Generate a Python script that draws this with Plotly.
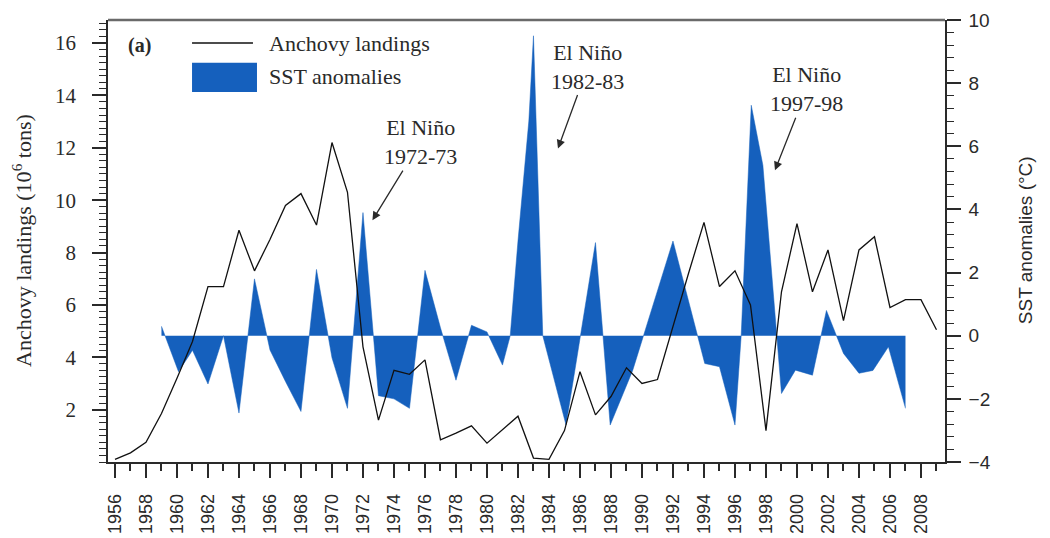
import plotly.graph_objects as go

# ---------------- data ----------------
years = list(range(1956, 2010))
landings = [0.1, 0.35, 0.75, 1.85, 3.2, 4.6, 6.7, 6.7, 8.85, 7.3,
            8.5, 9.8, 10.25, 9.05, 12.2, 10.3, 4.4, 1.6, 3.5, 3.35,
            3.9, 0.85, 1.1, 1.38, 0.72, 1.22, 1.75, 0.15, 0.1, 1.2,
            3.45, 1.8, 2.5, 3.6, 3.0, 3.15, 5.2, 7.2, 9.15, 6.7,
            7.3, 6.0, 1.2, 6.5, 9.1, 6.5, 8.1, 5.4, 8.1, 8.6,
            5.9, 6.2, 6.2, 5.05]

sst_x = [1959.0, 1960.1, 1961.0, 1962.0, 1963.0, 1964.0, 1965.0, 1966.0,
         1967.0, 1968.0, 1969.0, 1970.0, 1971.0, 1972.0, 1973.0, 1974.0,
         1975.0, 1976.0, 1977.0, 1978.0, 1979.0, 1980.0, 1981.0, 1981.5,
         1982.0, 1982.7, 1983.0, 1983.6, 1985.1, 1987.0, 1987.95, 1989.4,
         1992.0, 1994.05, 1995.0, 1996.0, 1996.4, 1997.05, 1997.8, 1999.0,
         1999.9, 2001.0, 2001.9, 2003.0, 2004.0, 2004.9, 2005.9, 2007.0]
sst_v = [0.3, -1.14, -0.46, -1.53, 0.0, -2.45, 1.8, -0.45,
         -1.45, -2.4, 2.1, -0.7, -2.3, 3.9, -1.9, -2.0,
         -2.3, 2.07, 0.25, -1.41, 0.33, 0.12, -0.93, 0.0,
         3.0, 6.8, 9.5, 0.0, -2.83, 2.95, -2.83, -1.1,
         3.0, -0.88, -0.98, -2.83, 0.0, 7.3, 5.4, -1.83,
         -1.09, -1.25, 0.8, -0.56, -1.19, -1.1, -0.35, -2.3]

x_major = list(range(1956, 2009, 2))
x_minor = list(range(1957, 2010, 2))
left_ticks = list(range(2, 17, 2))
right_ticks = list(range(-4, 11, 2))

el_nino_text = ["El Niño<br>1972-73", "El Niño<br>1982-83", "El Niño<br>1997-98"]
el_nino_head_x = [1972.61, 1984.58, 1998.58]
el_nino_head_y = [3.66, 5.93, 5.24]

# ---------------- styles ----------------
BLUE = "#1560bd"
INK = "#2a2a2a"
SERIF = "Liberation Serif"
SANS = "Liberation Sans"

fig = go.Figure()

# SST anomalies filled area (right axis -> 'y')
fig.add_trace(go.Scatter(
    x=sst_x, y=sst_v, yaxis="y", mode="lines",
    fill="tozeroy", fillcolor=BLUE,
    line=dict(color=BLUE, width=0.5),
    showlegend=False, hoverinfo="skip"))

# Anchovy landings line (left axis -> 'y2', drawn on top)
fig.add_trace(go.Scatter(
    x=years, y=landings, yaxis="y2", mode="lines",
    line=dict(color="#111111", width=1.3),
    showlegend=False))

# the page body adds an 8px margin, so the figure is 8px smaller each way
fig.update_layout(
    template="none",
    width=1042, height=530,
    margin=dict(l=100, r=105, t=12, b=76, autoexpand=False),
    paper_bgcolor="white", plot_bgcolor="white",
    showlegend=False,
    xaxis=dict(
        automargin=False,
        range=[1955.55, 2009.55],
        tickmode="array", tickvals=x_major,
        ticktext=[str(v) for v in x_major],
        tickangle=-90, ticks="outside", ticklen=14, tickwidth=1.5,
        tickcolor=INK, showline=True, linecolor=INK, linewidth=1.5,
        showgrid=False, zeroline=False,
        tickfont=dict(family=SANS, size=18, color=INK),
        ticklabelstandoff=9,
        minor=dict(tickmode="array", tickvals=x_minor, ticks="outside",
                   ticklen=7, tickwidth=1.5, tickcolor=INK, showgrid=False),
    ),
    yaxis=dict(
        automargin=False,
        side="right", range=[-4, 10],
        tickmode="array", tickvals=right_ticks,
        ticks="outside", ticklen=14, tickwidth=1.5, tickcolor=INK,
        showline=True, linecolor=INK, linewidth=1.5,
        showgrid=False, zeroline=False,
        tickfont=dict(family=SANS, size=19, color=INK),
        ticklabelstandoff=4,
        minor=dict(tick0=-4, dtick=0.4, ticks="outside", ticklen=7,
                   tickwidth=1.3, tickcolor=INK, showgrid=False),
    ),
    yaxis2=dict(
        automargin=False,
        overlaying="y", side="left", anchor="x", range=[0, 16.88],
        tickmode="array", tickvals=left_ticks,
        ticks="outside", ticklen=14, tickwidth=1.5, tickcolor=INK,
        showline=True, linecolor=INK, linewidth=1.5,
        showgrid=False, zeroline=False,
        tickfont=dict(family=SERIF, size=21, color=INK),
        ticklabelstandoff=12,
        minor=dict(tick0=0, dtick=0.25, ticks="outside", ticklen=7,
                   tickwidth=1.3, tickcolor=INK, showgrid=False),
    ),
)

shapes = [
    # top frame line
    dict(type="line", xref="paper", yref="paper", x0=0, x1=1, y0=1, y1=1,
         line=dict(color="#6a6a6a", width=2.5)),
    # legend: line sample
    dict(type="line", xref="paper", yref="paper", x0=0.1004, x1=0.1732,
         y0=0.948, y1=0.948, line=dict(color="#111111", width=1.5)),
    # legend: filled swatch
    dict(type="rect", xref="paper", yref="paper", x0=0.1004, x1=0.178,
         y0=0.837, y1=0.903, fillcolor=BLUE, line=dict(width=0)),
]
fig.update_layout(shapes=shapes)

ann = []
# panel label and legend texts
ann.append(dict(text="<b>(a)</b>", xref="paper", yref="paper", x=0.038, y=0.943,
                xanchor="center", yanchor="middle",
                showarrow=False, font=dict(family=SERIF, size=20, color=INK)))
ann.append(dict(text="Anchovy landings", xref="paper", yref="paper", x=0.19, y=0.946,
                xanchor="left", yanchor="middle", showarrow=False,
                font=dict(family=SERIF, size=22, color=INK)))
ann.append(dict(text="SST anomalies", xref="paper", yref="paper", x=0.19, y=0.872,
                xanchor="left", yanchor="middle", showarrow=False,
                font=dict(family=SERIF, size=22, color=INK)))

# axis titles
ann.append(dict(text="Anchovy landings (10<sup>6</sup> tons)", xref="paper", yref="paper",
                x=-0.103, y=0.502, xanchor="center", yanchor="middle",
                textangle=-90, showarrow=False,
                font=dict(family=SERIF, size=22, color=INK)))
ann.append(dict(text="SST anomalies (°C)", xref="paper", yref="paper",
                x=1.0956, y=0.502, xanchor="center", yanchor="middle",
                textangle=-90, showarrow=False,
                font=dict(family=SANS, size=19, color=INK)))

# El Niño labels with arrows (head in data coords, text offset in pixels)
offsets = [(48, -78), (30, -82), (32, -81)]
for t, hx, hy, (dx, dy) in zip(el_nino_text, el_nino_head_x, el_nino_head_y, offsets):
    ann.append(dict(text=t, x=hx, y=hy, xref="x", yref="y", ax=dx, ay=dy,
                    showarrow=True, arrowhead=2, arrowsize=1.3, arrowwidth=1.3,
                    arrowcolor=INK, align="center",
                    font=dict(family=SERIF, size=22, color=INK)))

fig.update_layout(annotations=ann)

fig.write_html("out.html")
